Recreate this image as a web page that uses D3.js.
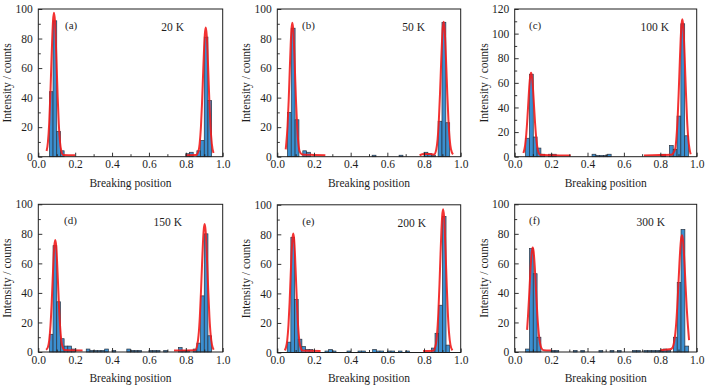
<!DOCTYPE html>
<html><head><meta charset="utf-8">
<script src="https://cdn.jsdelivr.net/npm/d3@7"></script>
<style>body{margin:0;background:#fff}svg{display:block}</style>
</head><body>
<svg id="chart" width="714" height="392"></svg>
<script>
// ---------- data ----------
const panelLabels = ["(a)", "(b)", "(c)", "(d)", "(e)", "(f)"];
const temperatures = ["20 K", "50 K", "100 K", "150 K", "200 K", "300 K"];
const yMaxes = [100, 100, 120, 100, 100, 100];
const xTickValues = [0, 0.2, 0.4, 0.6, 0.8, 1.0];
const xMinorTickValues = [0.1, 0.3, 0.5, 0.7, 0.9];
const binWidths = [0.02, 0.021, 0.021, 0.02, 0.02, 0.021];

// histogram bars: left bin edge and count
const binsA = [0.06,0.08,0.10,0.12,0.80,0.82,0.86,0.88,0.90,0.92];
const countsA = [44,92,17,4,2,3,4,11,81,38];
const binsB = [0.055,0.076,0.097,0.139,0.160,0.517,0.664,0.800,0.821,0.842,0.877,0.898,0.919];
const countsB = [30,87,25,4,3,1,1,3,2,1,24,91,23];
const binsC = [0.060,0.081,0.102,0.123,0.144,0.186,0.207,0.425,0.446,0.467,0.488,0.509,0.808,0.850,0.871,0.892,0.913,0.934];
const countsC = [15,67,16,7,2,2,2,2,1,1,1,2,2,9,6,33,108,17];
const binsD = [0.06,0.08,0.10,0.12,0.14,0.16,0.18,0.26,0.28,0.30,0.32,0.34,0.36,0.40,0.48,0.50,0.52,0.54,0.60,0.62,0.64,0.68,0.76,0.78,0.80,0.84,0.86,0.88,0.90,0.92];
const countsD = [12,72,34,9,4,4,2,2,1,1,1,1,2,1,2,1,1,1,1,1,1,1,3,1,1,2,6,38,80,11];
const binsE = [0.054,0.074,0.094,0.114,0.134,0.154,0.174,0.26,0.28,0.30,0.38,0.44,0.46,0.52,0.54,0.56,0.60,0.62,0.66,0.70,0.84,0.86,0.88,0.90,0.92];
const countsE = [7,78,36,9,4,2,2,1,2,1,1,1,1,2,1,1,1,1,1,1,3,13,32,92,5];
const binsF = [0.060,0.081,0.102,0.123,0.200,0.221,0.322,0.363,0.463,0.524,0.564,0.648,0.669,0.710,0.731,0.752,0.773,0.794,0.815,0.836,0.872,0.893,0.914,0.935];
const countsF = [2,70,53,10,1,1,1,1,1,1,1,1,1,1,1,1,1,1,2,1,10,47,83,4];

// red fit curves: [position, counts]
const fitA1 = [[0.045,3.8],[0.052,9.6],[0.059,22.5],[0.065,40.7],[0.071,63.4],[0.076,81.6],[0.080,92.3],[0.085,97.5],[0.090,92.3],[0.094,81.6],[0.099,63.4],[0.105,40.7],[0.111,22.5],[0.118,9.6],[0.125,3.8],[0.135,1.2],[0.2,1]];
const fitA2 = [[0.80,1],[0.855,1.1],[0.868,3.5],[0.875,8.7],[0.882,20.3],[0.888,36.5],[0.894,56.9],[0.899,73.1],[0.903,82.7],[0.908,87.4],[0.913,82.7],[0.917,73.1],[0.922,56.9],[0.928,36.5],[0.934,20.3],[0.941,8.7],[0.95,2.5]];
const fitB1 = [[0.046,5],[0.049,9],[0.056,21],[0.062,37.9],[0.068,59],[0.073,75.9],[0.077,85.9],[0.082,90.7],[0.087,85.9],[0.091,75.9],[0.096,59],[0.102,37.9],[0.108,21],[0.115,9],[0.122,3.6],[0.135,1.5],[0.2,1.2],[0.262,1]];
const fitB2 = [[0.776,1],[0.80,1.8],[0.83,1.8],[0.855,1.5],[0.867,5],[0.874,11.7],[0.881,25],[0.887,42.2],[0.893,62.4],[0.898,77.9],[0.902,86.7],[0.907,91.4],[0.912,86.7],[0.916,77.9],[0.921,62.4],[0.927,42.2],[0.933,25],[0.940,11.7],[0.947,5],[0.958,1.5]];
const fitC1 = [[0.048,3],[0.057,9],[0.064,19],[0.070,31.8],[0.076,46.9],[0.081,58.5],[0.085,65.1],[0.090,68.3],[0.095,65.1],[0.099,58.5],[0.104,46.9],[0.110,31.8],[0.116,19],[0.123,9],[0.130,4],[0.140,1.5],[0.2,1.2],[0.308,1]];
const fitC2 = [[0.71,1],[0.80,1.3],[0.86,1.5],[0.881,5.9],[0.888,14.2],[0.895,30.5],[0.901,51.7],[0.907,76.4],[0.912,95.5],[0.916,106.3],[0.921,111.6],[0.926,106.3],[0.930,95.5],[0.935,76.4],[0.941,51.7],[0.947,30.5],[0.954,14.2],[0.961,5.9],[0.967,2]];
const fitD1 = [[0.042,1.5],[0.052,3.2],[0.059,7.7],[0.066,17.7],[0.072,31.7],[0.078,49.4],[0.083,63.5],[0.087,71.8],[0.092,75.8],[0.097,71.8],[0.101,63.5],[0.106,49.4],[0.112,31.7],[0.118,17.7],[0.125,7.7],[0.132,3.2],[0.142,1.3],[0.24,1]];
const fitD2 = [[0.736,1],[0.85,1.2],[0.862,4.8],[0.869,11.2],[0.876,23.9],[0.882,40.3],[0.888,59.4],[0.893,74.2],[0.897,82.6],[0.902,86.7],[0.907,82.6],[0.911,74.2],[0.916,59.4],[0.922,40.3],[0.928,23.9],[0.935,11.2],[0.942,4.8],[0.951,1.5]];
const fitE1 = [[0.040,1.5],[0.047,3.3],[0.054,8.1],[0.061,18.8],[0.067,33.7],[0.073,52.5],[0.078,67.5],[0.082,76.3],[0.087,80.6],[0.092,76.3],[0.096,67.5],[0.101,52.5],[0.107,33.7],[0.113,18.8],[0.120,8.1],[0.127,3.3],[0.137,1.3],[0.236,1]];
const fitE2 = [[0.795,1],[0.85,1.2],[0.864,5.2],[0.871,12.4],[0.878,26.6],[0.884,45],[0.890,66.5],[0.895,83],[0.899,92.4],[0.904,97],[0.909,92.4],[0.913,83],[0.918,66.5],[0.924,45],[0.930,26.6],[0.937,12.4],[0.944,5.2],[0.955,1.4]];
const fitF1 = [[0.068,15],[0.073,24.1],[0.079,37.2],[0.085,51.6],[0.090,62.1],[0.094,67.9],[0.099,70.7],[0.104,67.9],[0.108,62.1],[0.113,51.6],[0.119,37.2],[0.125,24.1],[0.132,12.8],[0.139,6.1],[0.147,2.6],[0.16,1.2],[0.2,1]];
const fitF2 = [[0.80,1.2],[0.85,1.8],[0.862,2.2],[0.872,4.6],[0.879,9],[0.886,17.3],[0.893,30.3],[0.899,44.7],[0.905,59.7],[0.910,70.3],[0.914,76.2],[0.919,79],[0.924,76.2],[0.928,70.3],[0.933,59.7],[0.939,44.7],[0.945,30.3],[0.952,17.3],[0.958,8]];

const allBins = [binsA, binsB, binsC, binsD, binsE, binsF];
const allCounts = [countsA, countsB, countsC, countsD, countsE, countsF];
const allFits = [[fitA1, fitA2], [fitB1, fitB2], [fitC1, fitC2], [fitD1, fitD2], [fitE1, fitE2], [fitF1, fitF2]];

// ---------- layout ----------
const layout = [
  {x: 38.3, y: 9,     w: 184.4, h: 147.7, lab: 26.7, tmp: 38.7},
  {x: 277.3, y: 9,    w: 183.4, h: 147.7, lab: 24.7, tmp: 35.7},
  {x: 514.7, y: 9,    w: 182.0, h: 147.7, lab: 14.3, tmp: 27.7},
  {x: 38.3, y: 204.3, w: 184.4, h: 147.7, lab: 25.7, tmp: 40.7},
  {x: 277.3, y: 204.8, w: 183.4, h: 147.7, lab: 25.0, tmp: 34.7},
  {x: 514.7, y: 204.3, w: 182.0, h: 147.7, lab: 14.3, tmp: 31.7}
];

const FONT = "'Liberation Serif', 'Times New Roman', serif";
const INK = "#1e1e1e";
const BAR_FILL = "#3b8fd0";
const BAR_STROKE = "#2c3440";
const FIT_COLOR = "#f21c1c";

const svg = d3.select("#chart");

layout.forEach((L, i) => {
  const g = svg.append("g").attr("transform", `translate(${L.x},${L.y})`);
  const x = d3.scaleLinear().domain([0, 1]).range([0, L.w]);
  const y = d3.scaleLinear().domain([0, yMaxes[i]]).range([L.h, 0]);

  // bars
  const bars = allBins[i].map((b, k) => ({x0: b, c: allCounts[i][k]}));
  g.append("g").selectAll("rect").data(bars).join("rect")
    .attr("x", d => x(d.x0))
    .attr("width", d => x(d.x0 + binWidths[i]) - x(d.x0))
    .attr("y", d => y(d.c))
    .attr("height", d => y(0) - y(d.c))
    .attr("fill", BAR_FILL)
    .attr("stroke", BAR_STROKE)
    .attr("stroke-width", 0.7);

  // fit curves
  const line = d3.line().x(d => x(d[0])).y(d => y(d[1])).curve(d3.curveMonotoneX);
  allFits[i].forEach(f => {
    g.append("path").attr("d", line(f))
      .attr("fill", "none").attr("stroke", FIT_COLOR)
      .attr("stroke-width", 2).attr("stroke-linejoin", "round")
      .attr("stroke-opacity", 0.9);
  });

  // axes (ticks inward)
  const xAxis = g.append("g").attr("transform", `translate(0,${L.h})`)
    .call(d3.axisBottom(x).tickValues(xTickValues).tickSize(-4).tickPadding(3.5).tickFormat(d3.format(".1f")));
  const xMinor = g.append("g").attr("transform", `translate(0,${L.h})`)
    .call(d3.axisBottom(x).tickValues(xMinorTickValues).tickSize(-2.5).tickFormat(""));
  const yMajorVals = y.ticks(yMaxes[i] / 20);
  const yMinorVals = y.ticks(yMaxes[i] / 10).filter(v => v % 20 !== 0);
  const yAxis = g.append("g")
    .call(d3.axisLeft(y).tickValues(yMajorVals).tickSize(-4).tickPadding(5.5));
  const yMinor = g.append("g")
    .call(d3.axisLeft(y).tickValues(yMinorVals).tickSize(-2.5).tickFormat(""));

  [xAxis, xMinor, yAxis, yMinor].forEach(a => {
    a.select(".domain").remove();
    a.selectAll("line").attr("stroke", INK).attr("stroke-width", 0.9);
    a.selectAll("text").attr("font-family", FONT).attr("font-size", 11.5).attr("fill", INK);
  });

  // frame
  g.append("rect").attr("x", 0).attr("y", 0).attr("width", L.w).attr("height", L.h)
    .attr("fill", "none").attr("stroke", INK).attr("stroke-width", 1);

  // titles
  g.append("text").attr("x", L.w / 2).attr("y", L.h + 30)
    .attr("text-anchor", "middle").attr("font-family", FONT).attr("font-size", 11.5)
    .attr("fill", INK).text("Breaking position");
  g.append("text")
    .attr("transform", `translate(${-27},${L.h / 2}) rotate(-90)`)
    .attr("text-anchor", "middle").attr("font-family", FONT).attr("font-size", 11.5)
    .attr("fill", INK).text("Intensity / counts");

  // panel labels
  g.append("text").attr("x", L.lab).attr("y", 20)
    .attr("font-family", FONT).attr("font-size", 11).attr("fill", INK).text(panelLabels[i]);
  g.append("text").attr("x", L.w - L.tmp).attr("y", 22).attr("text-anchor", "end")
    .attr("font-family", FONT).attr("font-size", 11.5).attr("fill", INK).text(temperatures[i]);
});
</script>
</body></html>
